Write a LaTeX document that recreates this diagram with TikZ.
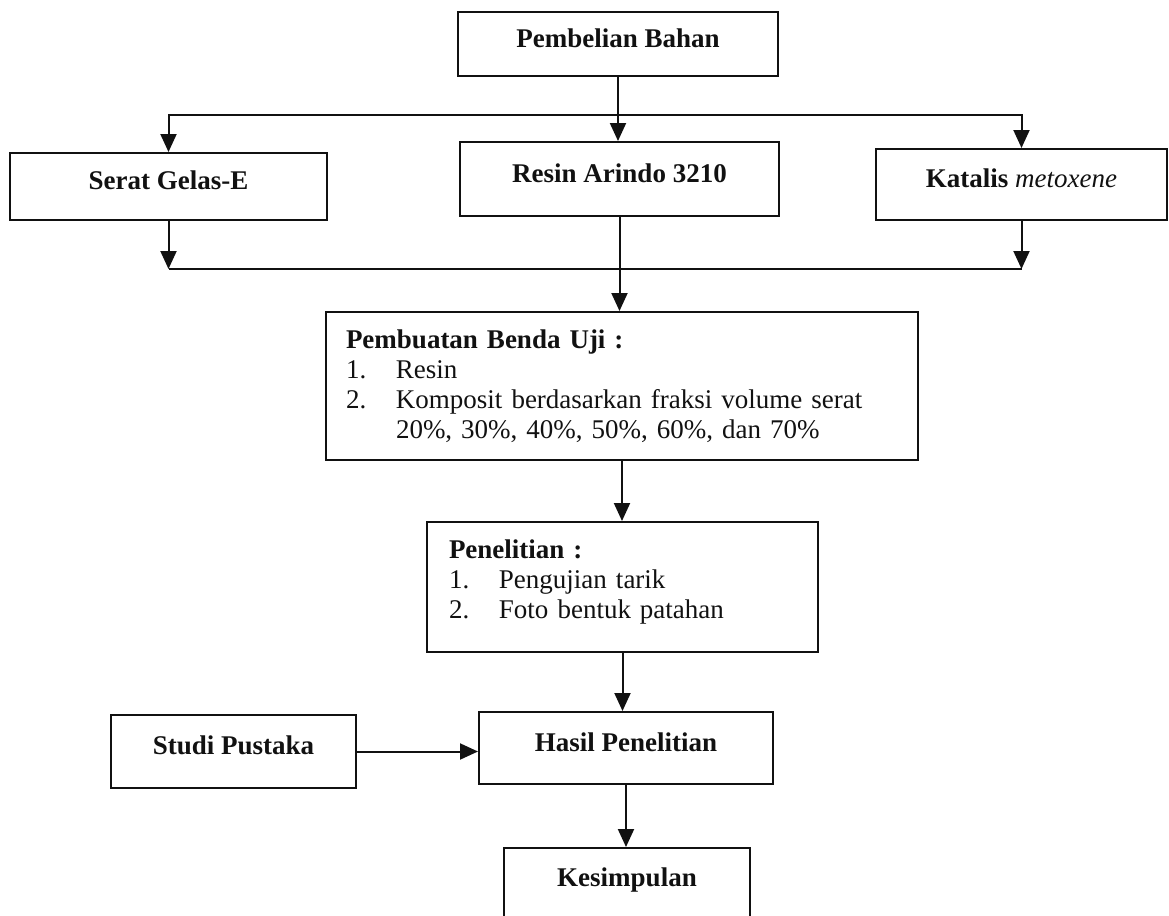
\documentclass[tikz,border=0pt]{standalone}
\usepackage{fontspec}
\setmainfont{Liberation Serif}
\usepackage{xcolor}
\usetikzlibrary{calc, arrows.meta, positioning}
\definecolor{cgaris}{HTML}{111111}
\tikzset{>={Triangle[length=9pt, width=8pt]}}

\begin{document}
\begin{tikzpicture}[x=0.5pt, y=-0.5pt]
    \useasboundingbox (0,0) rectangle (1169,916);
    \begin{scope}[every node/.style={rectangle, draw=cgaris, line width=1pt, text height=10pt, text depth=7pt, font=\fontsize{13.5}{15}\selectfont\bfseries\color{cgaris}}]
        \node (beli) [minimum width=160pt, minimum height=32pt] at (618,44) {Pembelian Bahan};
        \node (serat) [minimum width=158.5pt, minimum height=33.5pt] at (168.5,186.5) {Serat Gelas-E};
        \node (resin) [minimum width=159.5pt, minimum height=37pt] at (619.5,179) {Resin Arindo 3210};
        \node (katalis) [minimum width=145.5pt, minimum height=35.5pt] at (1021.5,184.5) {Katalis {\mdseries\itshape metoxene}};
        \node (studi) [minimum width=122.5pt, minimum height=36.5pt] at (233.5,751.5) {Studi Pustaka};
        \node (hasil) [minimum width=147pt, minimum height=36pt] at (626,748) {Hasil Penelitian};
        \node (kesim) [minimum width=123pt, minimum height=35pt] at (627,883) {Kesimpulan};
    \end{scope}
    \begin{scope}[every node/.style={rectangle, draw=cgaris, line width=1pt, align=left, font=\fontsize{13.5}{15}\selectfont\color{cgaris}}]
        \node (buat) [text width=276pt, inner xsep=10pt, minimum height=74pt] at (622,386) {\textbf{Pembuatan Benda Uji :}\\ \makebox[25pt][l]{1.}Resin\\ \makebox[25pt][l]{2.}Komposit berdasarkan fraksi volume serat\\ \hspace*{25pt}20\%, 30\%, 40\%, 50\%, 60\%, dan 70\%};
        \node (pen) [text width=173.5pt, inner xsep=11pt, minimum height=65pt] at (622.5,587) {\textbf{Penelitian :}\\ \makebox[25pt][l]{1.}Pengujian tarik\\ \makebox[25pt][l]{2.}Foto bentuk patahan\\[-7pt]\mbox{}};
    \end{scope}
    \coordinate (cabang) at ([yshift=-19pt]beli.south);
    \coordinate (gabung) at ([yshift=-26pt]resin.south);
    \draw[->, line width=1pt, draw=cgaris] (beli.south) -- (beli.south |- resin.north);
    \draw[->, line width=1pt, draw=cgaris] (cabang) -| (serat.north);
    \draw[->, line width=1pt, draw=cgaris] (cabang) -| (katalis.north);
    \draw[->, line width=1pt, draw=cgaris] (serat.south) -- (serat.south |- gabung);
    \draw[->, line width=1pt, draw=cgaris] (katalis.south) -- (katalis.south |- gabung);
    \draw[line width=1pt, draw=cgaris] (serat.south |- gabung) -- (katalis.south |- gabung);
    \draw[->, line width=1pt, draw=cgaris] (resin.south) -- (resin.south |- buat.north);
    \draw[->, line width=1pt, draw=cgaris] (buat.south) -- (buat.south |- pen.north);
    \draw[->, line width=1pt, draw=cgaris] (pen.south) -- (pen.south |- hasil.north);
    \draw[->, line width=1pt, draw=cgaris] (studi.east) -- (studi.east -| hasil.west);
    \draw[->, line width=1pt, draw=cgaris] (hasil.south) -- (hasil.south |- kesim.north);
\end{tikzpicture}
\end{document}
